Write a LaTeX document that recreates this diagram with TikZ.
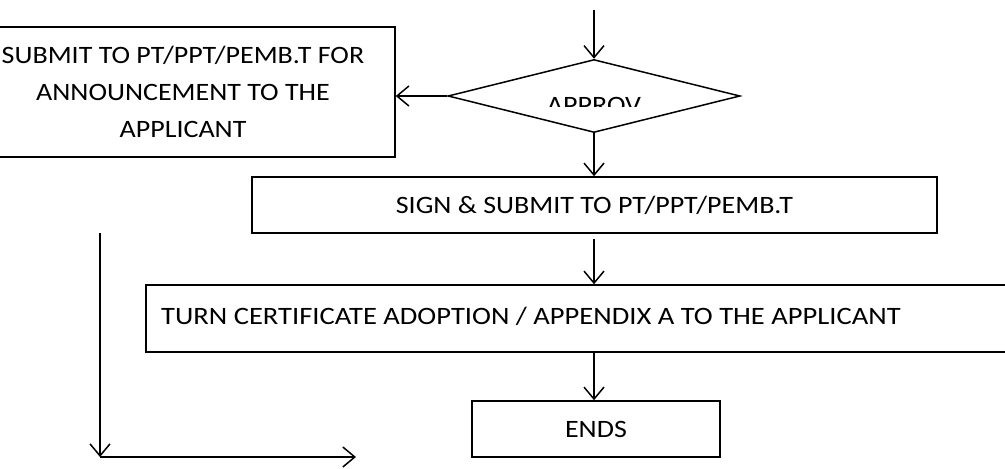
\documentclass[tikz,border=0pt]{standalone}
\usepackage{fontspec}
\setmainfont[FakeStretch=1.12]{Carlito}
\newfontfamily\widefont[FakeStretch=1.142]{Carlito}
\usetikzlibrary{arrows.meta,shapes.geometric}
\tikzset{
  box/.style={draw, line width=1.5pt, rectangle, inner sep=0pt, align=center},
  flow/.style={line width=1.5pt, -{Straight Barb[length=12pt,width=20pt,line width=1.5pt]}},
  txt/.style={font=\fontsize{25}{37}\selectfont}
}
\begin{document}
\begin{tikzpicture}[x=1pt,y=-1pt]
\useasboundingbox (0,0) rectangle (1005,469);
\clip (0,0) rectangle (1005,469);
\fill[white] (0,0) rectangle (1005,469);
% nodes
\coordinate (start) at (594,10);
\node[draw, line width=1.5pt, diamond, minimum width=292pt, minimum height=73pt, inner sep=0pt, aspect=4] (dec) at (594,96) {};
\node[box, minimum width=434pt, minimum height=130pt] (left) at (178,92) {};
\node[txt, inner sep=0pt, align=center] (lefttext) at (183,92)
  {SUBMIT TO PT/PPT/PEMB.T FOR\\ANNOUNCEMENT TO THE\\APPLICANT};
\node[box, txt, minimum width=685pt, minimum height=56pt] (sign) at (594.5,205) {SIGN \& SUBMIT TO PT/PPT/PEMB.T};
\node[box, minimum width=904pt, minimum height=67pt] (turn) at (598,318.5) {};
\node[font=\widefont\fontsize{25}{37}\selectfont, inner sep=0pt, anchor=west] (turntext) at (161,316)
  {TURN CERTIFICATE ADOPTION / APPENDIX A TO THE APPLICANT};
\node[box, txt, minimum width=248pt, minimum height=56pt] (ends) at (596,429) {ENDS};
\coordinate (vtop) at (100,233);
\coordinate (corner) at (100,457);
\coordinate (hend) at (356,457);
% clipped decision text
\begin{scope}
  \clip (540,90) rectangle (650,106);
  \node[txt, inner sep=0pt] (apptext) at (594,105) {APPROV};
\end{scope}
% connectors
\draw[flow] (start) -- (dec.north);
\draw[flow] (dec.west) -- (left.east |- dec.west);
\draw[flow] (dec.south) -- (sign.north -| dec.south);
\draw[flow] (sign.south -| dec.south) ++(0,5) -- (turn.north -| dec.south);
\draw[flow] (turn.south -| dec.south) -- (ends.north -| dec.south);
\draw[flow] (vtop) -- (corner);
\draw[flow] (corner) -- (hend);
\end{tikzpicture}
\end{document}
